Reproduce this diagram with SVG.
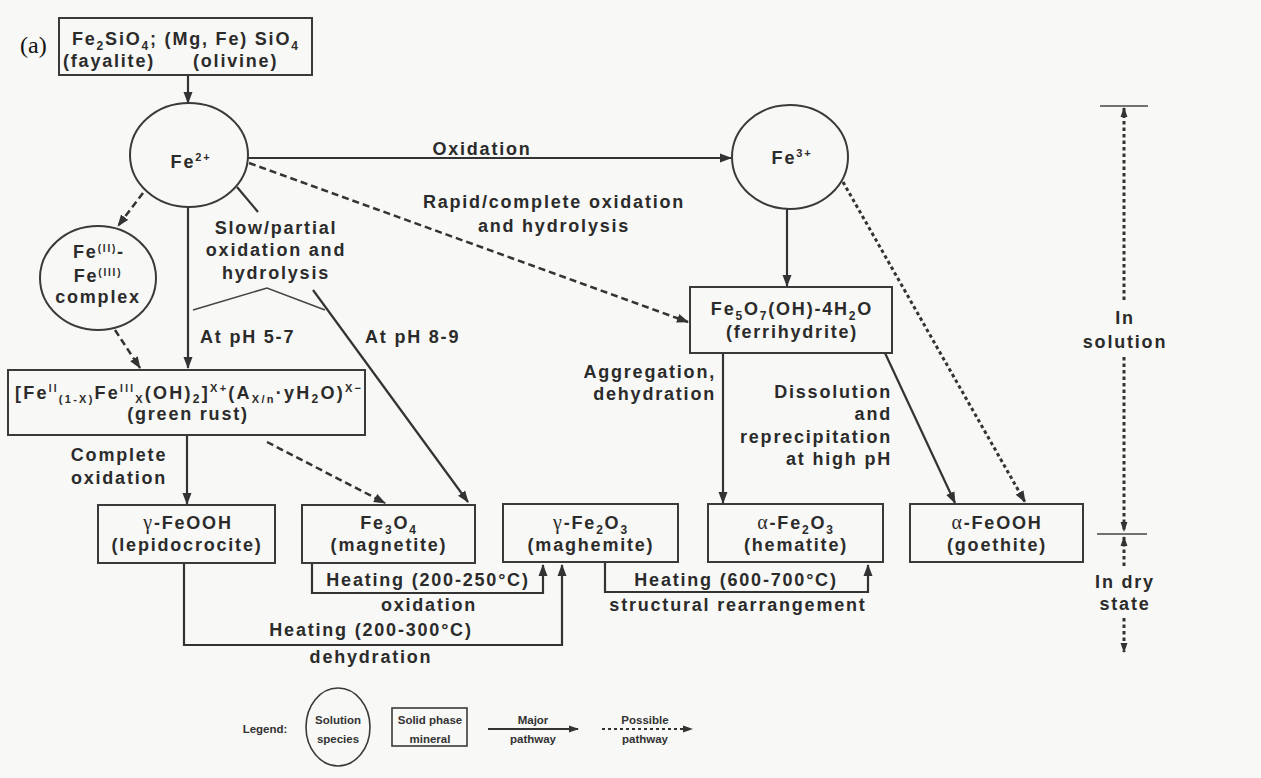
<svg xmlns="http://www.w3.org/2000/svg" width="1261" height="778" viewBox="0 0 1261 778">
<defs>
<marker id="ah" viewBox="0 0 12 10" refX="11" refY="5" markerWidth="12" markerHeight="10" orient="auto" markerUnits="userSpaceOnUse"><path d="M0,0.5 L12,5 L0,9.5 z" fill="#333"/></marker>
<marker id="ahs" viewBox="0 0 10 8" refX="9" refY="4" markerWidth="10" markerHeight="8" orient="auto" markerUnits="userSpaceOnUse"><path d="M0,0.5 L10,4 L0,7.5 z" fill="#333"/></marker>
</defs>
<style>
.bx{fill:none;stroke:#3a3a3a;stroke-width:2}
.ci{fill:none;stroke:#3a3a3a;stroke-width:2}
.ln{fill:none;stroke:#333;stroke-width:2.2}
.da{fill:none;stroke:#333;stroke-width:2.5;stroke-dasharray:7 4}
.do{fill:none;stroke:#333;stroke-width:3;stroke-dasharray:3.5 3}
.th{fill:none;stroke:#444;stroke-width:1.5}
text{font-family:"Liberation Sans",Arial,Helvetica,sans-serif;font-weight:bold;font-size:18px;letter-spacing:1.8px;fill:#2b2b2b}
.m{text-anchor:middle}
.e{text-anchor:end}
.gk{font-family:"Liberation Serif","Times New Roman",serif;font-weight:normal;font-size:20px}
.lg{font-size:11.5px;letter-spacing:0;fill:#333}
.fa{font-family:"Liberation Serif","Times New Roman",serif;font-weight:normal;font-size:24px;letter-spacing:0;fill:#111}
</style>
<rect x="0" y="0" width="1261" height="778" fill="#f8f8f6"/>
<text class="fa" x="20" y="53">(a)</text>

<g id="connectors">
<line class="ln" x1="188" y1="75" x2="188" y2="103" marker-end="url(#ah)"/>
<line class="ln" x1="248" y1="158" x2="731" y2="158" marker-end="url(#ah)"/>
<line class="da" x1="249" y1="163" x2="688" y2="322" marker-end="url(#ah)"/>
<line class="da" x1="143" y1="193" x2="118" y2="226" marker-end="url(#ah)"/>
<line class="ln" x1="188" y1="207" x2="188" y2="368" marker-end="url(#ah)"/>
<line class="ln" x1="237" y1="187" x2="258" y2="212"/>
<polyline class="th" points="193,310 267,288 325,310"/>
<line class="ln" x1="313" y1="290" x2="468" y2="502" marker-end="url(#ah)"/>
<line class="da" x1="115" y1="330" x2="140" y2="368" marker-end="url(#ah)"/>
<line class="ln" x1="787" y1="209" x2="787" y2="286" marker-end="url(#ah)"/>
<line class="do" x1="843" y1="182" x2="1025" y2="502" marker-end="url(#ah)"/>
<line class="ln" x1="723" y1="353" x2="723" y2="503" marker-end="url(#ah)"/>
<line class="ln" x1="885" y1="353" x2="955" y2="503" marker-end="url(#ah)"/>
<line class="ln" x1="187" y1="435" x2="187" y2="504" marker-end="url(#ah)"/>
<line class="da" x1="267" y1="442" x2="385" y2="503" marker-end="url(#ah)"/>
<polyline class="ln" points="312,563 312,593 543,593 543,565" marker-end="url(#ah)"/>
<polyline class="ln" points="184,563 184,645 562,645 562,565" marker-end="url(#ah)"/>
<polyline class="ln" points="605,563 605,592 868,592 868,565" marker-end="url(#ah)"/>
</g>

<g id="edge-labels">
<text class="m" x="482" y="155">Oxidation</text>
<text class="m" x="554" y="208">Rapid/complete oxidation</text>
<text class="m" x="554" y="232">and hydrolysis</text>
<text class="m" x="276" y="234">Slow/partial</text>
<text class="m" x="276" y="256">oxidation and</text>
<text class="m" x="276" y="279">hydrolysis</text>
<text x="200" y="343">At pH 5-7</text>
<text x="365" y="343">At pH 8-9</text>
<text class="m" x="119" y="461">Complete</text>
<text class="m" x="119" y="484">oxidation</text>
<text class="e" x="716" y="378">Aggregation,</text>
<text class="e" x="716" y="400">dehydration</text>
<text class="e" x="892" y="398">Dissolution</text>
<text class="e" x="892" y="420">and</text>
<text class="e" x="892" y="443">reprecipitation</text>
<text class="e" x="892" y="465">at high pH</text>
<text class="m" x="428" y="586">Heating (200-250°C)</text>
<text class="m" x="429" y="611">oxidation</text>
<text class="m" x="371" y="636">Heating (200-300°C)</text>
<text class="m" x="371" y="663">dehydration</text>
<text class="m" x="736" y="586">Heating (600-700°C)</text>
<text class="m" x="738" y="611">structural rearrangement</text>
</g>

<g id="olivine">
<rect class="bx" x="59" y="18" width="253" height="57"/>
<text x="72" y="45">Fe<tspan font-size="12" dy="5">2</tspan><tspan dy="-5">SiO</tspan><tspan font-size="12" dy="5">4</tspan><tspan dy="-5">; (Mg, Fe) SiO</tspan><tspan font-size="12" dy="5">4</tspan></text>
<text x="63" y="67">(fayalite)</text>
<text x="193" y="67">(olivine)</text>
</g>

<g id="fe2">
<ellipse class="ci" cx="189" cy="155" rx="59" ry="52"/>
<text class="m" x="191" y="168">Fe<tspan font-size="11" dy="-7">2+</tspan></text>
</g>

<g id="fe3">
<ellipse class="ci" cx="790" cy="157" rx="58" ry="52"/>
<text class="m" x="792" y="164">Fe<tspan font-size="11" dy="-7">3+</tspan></text>
</g>

<g id="complex">
<ellipse class="ci" cx="98" cy="278" rx="58" ry="52"/>
<text class="m" x="99" y="258">Fe<tspan font-size="10" dy="-6">(II)</tspan><tspan dy="6">-</tspan></text>
<text class="m" x="98" y="282">Fe<tspan font-size="10" dy="-6">(III)</tspan></text>
<text class="m" x="98" y="303">complex</text>
</g>

<g id="green-rust">
<rect class="bx" x="8" y="370" width="357" height="65"/>
<text class="m" x="188" y="399" textLength="346" lengthAdjust="spacing" style="letter-spacing:0">[Fe<tspan font-size="10" dy="-7">II</tspan><tspan font-size="11" dy="11">(1-X)</tspan><tspan dy="-4">Fe</tspan><tspan font-size="10" dy="-7">III</tspan><tspan font-size="11" dy="11">X</tspan><tspan dy="-4">(OH)</tspan><tspan font-size="12" dy="4">2</tspan><tspan dy="-4">]</tspan><tspan font-size="11" dy="-7">X+</tspan><tspan dy="7">(A</tspan><tspan font-size="11" dy="4">X/n</tspan><tspan dy="-4">·yH</tspan><tspan font-size="12" dy="4">2</tspan><tspan dy="-4">O)</tspan><tspan font-size="11" dy="-7">X−</tspan></text>
<text class="m" x="188" y="420">(green rust)</text>
</g>

<g id="ferrihydrite">
<rect class="bx" x="690" y="287" width="202" height="66"/>
<text class="m" x="792" y="315">Fe<tspan font-size="12" dy="5">5</tspan><tspan dy="-5">O</tspan><tspan font-size="12" dy="5">7</tspan><tspan dy="-5">(OH)-4H</tspan><tspan font-size="12" dy="5">2</tspan><tspan dy="-5">O</tspan></text>
<text class="m" x="792" y="338">(ferrihydrite)</text>
</g>

<g id="lepidocrocite">
<rect class="bx" x="98" y="505" width="177" height="58"/>
<text class="m" x="188" y="529"><tspan class="gk">γ</tspan>-FeOOH</text>
<text class="m" x="187" y="551">(lepidocrocite)</text>
</g>

<g id="magnetite">
<rect class="bx" x="302" y="505" width="173" height="58"/>
<text class="m" x="389" y="529">Fe<tspan font-size="12" dy="5">3</tspan><tspan dy="-5">O</tspan><tspan font-size="12" dy="5">4</tspan></text>
<text class="m" x="389" y="551">(magnetite)</text>
</g>

<g id="maghemite">
<rect class="bx" x="503" y="504" width="175" height="58"/>
<text class="m" x="591" y="529"><tspan class="gk">γ</tspan>-Fe<tspan font-size="12" dy="5">2</tspan><tspan dy="-5">O</tspan><tspan font-size="12" dy="5">3</tspan></text>
<text class="m" x="591" y="551">(maghemite)</text>
</g>

<g id="hematite">
<rect class="bx" x="708" y="504" width="175" height="58"/>
<text class="m" x="796" y="529"><tspan class="gk">α</tspan>-Fe<tspan font-size="12" dy="5">2</tspan><tspan dy="-5">O</tspan><tspan font-size="12" dy="5">3</tspan></text>
<text class="m" x="796" y="551">(hematite)</text>
</g>

<g id="goethite">
<rect class="bx" x="910" y="504" width="173" height="58"/>
<text class="m" x="997" y="529"><tspan class="gk">α</tspan>-FeOOH</text>
<text class="m" x="997" y="551">(goethite)</text>
</g>

<g id="state-scale">
<line class="th" x1="1100" y1="106" x2="1148" y2="106"/>
<line class="do" x1="1124" y1="300" x2="1124" y2="108" marker-end="url(#ahs)"/>
<text class="m" x="1125" y="324">In</text>
<text class="m" x="1125" y="348">solution</text>
<line class="do" x1="1124" y1="357" x2="1124" y2="531" marker-end="url(#ahs)"/>
<line class="th" x1="1097" y1="534" x2="1147" y2="534"/>
<line class="do" x1="1124" y1="566" x2="1124" y2="537" marker-end="url(#ahs)"/>
<text class="m" x="1125" y="588">In dry</text>
<text class="m" x="1125" y="610">state</text>
<line class="do" x1="1124" y1="618" x2="1124" y2="652" marker-end="url(#ahs)"/>
</g>

<g id="legend">
<text class="lg m" x="265" y="733">Legend:</text>
<ellipse class="ci" cx="338" cy="727" rx="32" ry="39" style="stroke-width:1.6"/>
<text class="lg m" x="338" y="724">Solution</text>
<text class="lg m" x="338" y="743">species</text>
<rect class="bx" x="392" y="708" width="75" height="38" style="stroke-width:1.6"/>
<text class="lg m" x="430" y="724">Solid phase</text>
<text class="lg m" x="430" y="743">mineral</text>
<line class="ln" x1="488" y1="729" x2="578" y2="729" style="stroke-width:1.8" marker-end="url(#ahs)"/>
<text class="lg m" x="533" y="724">Major</text>
<text class="lg m" x="533" y="743">pathway</text>
<line class="do" x1="602" y1="729" x2="692" y2="729" style="stroke-width:2.2;stroke-dasharray:3 3" marker-end="url(#ahs)"/>
<text class="lg m" x="645" y="724">Possible</text>
<text class="lg m" x="645" y="743">pathway</text>
</g>
</svg>
